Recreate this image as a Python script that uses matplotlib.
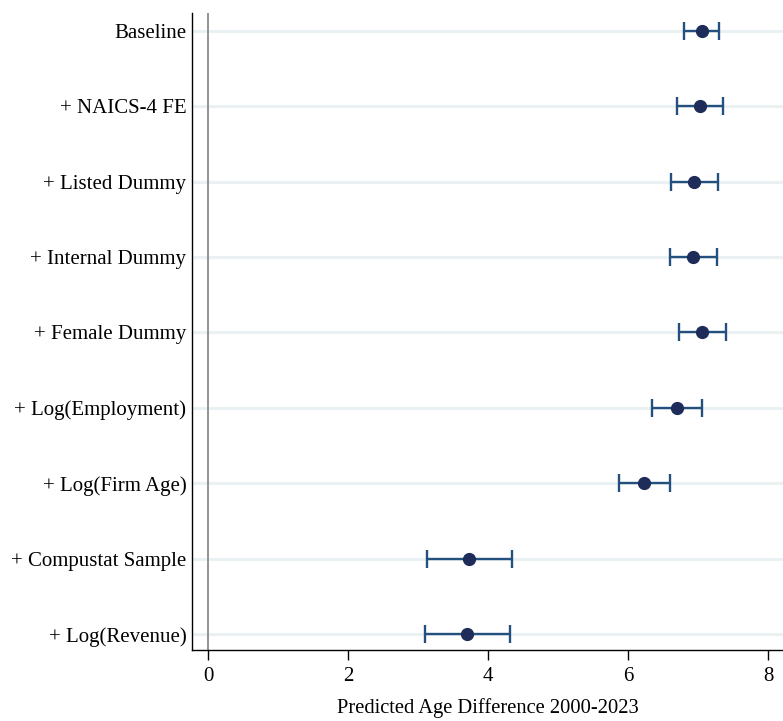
import matplotlib
matplotlib.use("Agg")
import matplotlib.pyplot as plt
import numpy as np

# Coefficient estimates and 95% confidence bounds by specification
labels = [
    "Baseline",
    "+ NAICS-4 FE",
    "+ Listed Dummy",
    "+ Internal Dummy",
    "+ Female Dummy",
    "+ Log(Employment)",
    "+ Log(Firm Age)",
    "+ Compustat Sample",
    "+ Log(Revenue)",
]
estimates = [7.05, 7.02, 6.94, 6.92, 7.06, 6.69, 6.23, 3.73, 3.70]
ci_low = [6.80, 6.69, 6.61, 6.59, 6.72, 6.34, 5.87, 3.13, 3.10]
ci_high = [7.30, 7.35, 7.28, 7.27, 7.40, 7.05, 6.60, 4.34, 4.31]
xticks = [0, 2, 4, 6, 8]

plt.rcParams["font.family"] = ["Liberation Serif", "DejaVu Serif"]

fig = plt.figure(figsize=(7.83, 7.21), dpi=100)
ax = fig.add_axes([0.2452, 0.0985, 0.7548, 0.883])

pos = np.arange(1, len(labels) + 1)
est = np.array(estimates)
lo = np.array(ci_low)
hi = np.array(ci_high)

for p in pos:
    ax.axhline(p, color="#eaf1f3", lw=2.2, zorder=0)
ax.axvline(0, color="#8a8a8a", lw=1.3, zorder=1)

ax.errorbar(est, pos, xerr=[est - lo, hi - est], fmt="none",
            ecolor="#23507e", elinewidth=1.7, capsize=6.5, capthick=1.7, zorder=2)
ax.plot(est, pos, "o", color="#1d2c59", markersize=8.5, zorder=3)

ax.set_xlim(-0.23, 8.21)
ax.set_ylim(9.21, 0.77)
ax.set_yticks(pos)
ax.set_yticklabels(labels, fontsize=15)
ax.set_xticks(xticks)
ax.set_xticklabels([str(t) for t in xticks], fontsize=15)
ax.tick_params(axis="y", length=0, pad=4)
ax.tick_params(axis="x", length=7, width=1.0, direction="out", pad=5)
ax.set_xlabel("Predicted Age Difference 2000-2023", fontsize=14.8, labelpad=9)

for s in ["top", "right"]:
    ax.spines[s].set_visible(False)
for s in ["left", "bottom"]:
    ax.spines[s].set_linewidth(1.0)
    ax.spines[s].set_color("black")

fig.savefig("out.png", dpi=100, facecolor="white")
